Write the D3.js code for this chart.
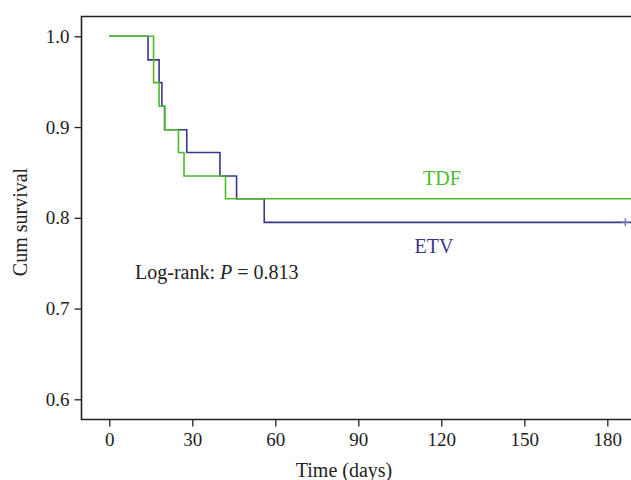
<!DOCTYPE html>
<html>
<head>
<meta charset="utf-8">
<script src="https://cdn.jsdelivr.net/npm/d3@7"></script>
<style>
  body { margin: 0; background: #fff; }
  text { font-family: "Liberation Serif", "DejaVu Serif", serif; }
</style>
</head>
<body>
<svg width="631" height="480"></svg>
<script>
// Kaplan-Meier steps
var tdfTimes = [0, 16, 18, 20, 25, 27, 42, 190];
var tdfSurv = [1.0, 0.949, 0.923, 0.897, 0.872, 0.846, 0.821, 0.821];
var etvTimes = [0, 14, 18, 19, 20, 28, 40, 46, 56, 190];
var etvSurv = [1.0, 0.974, 0.949, 0.923, 0.897, 0.872, 0.846, 0.821, 0.795, 0.795];
var etvCensor = [186.5];
var xTicks = [0, 30, 60, 90, 120, 150, 180];
var yTicks = [0.6, 0.7, 0.8, 0.9, 1.0];

var colors = { tdf: '#4cbb2a', etv: '#38388a' };

var svg = d3.select("svg");

var x = d3.scaleLinear().domain([0, 180]).range([109.3, 607.3]);
var y = d3.scaleLinear().domain([0.6, 1.0]).range([399.3, 36.3]);

var frameLeft = 81.5, frameTop = 16.5, frameBottom = 419.5;

// frame (open on the right, runs off the page)
svg.append('path')
    .attr('d', 'M640,' + frameTop + 'H' + frameLeft + 'V' + frameBottom + 'H640')
    .attr('fill', 'none')
    .attr('stroke', '#222')
    .attr('stroke-width', 1.6);

// y axis
var yAxis = d3.axisLeft(y).tickValues(yTicks).tickFormat(d3.format('.1f')).tickSize(7).tickPadding(5);
var gy = svg.append('g').attr('transform', 'translate(' + frameLeft + ',0)').call(yAxis);
gy.select('.domain').remove();
gy.selectAll('line').attr('stroke', '#222').attr('stroke-width', 1.3);
gy.selectAll('text').attr('font-size', 19).attr('fill', '#222')
    .style('font-family', '"Liberation Serif", serif');

// x axis
var xAxis = d3.axisBottom(x).tickValues(xTicks).tickSize(7).tickPadding(6);
var gx = svg.append('g').attr('transform', 'translate(0,' + frameBottom + ')').call(xAxis);
gx.select('.domain').remove();
gx.selectAll('line').attr('stroke', '#222').attr('stroke-width', 1.3);
gx.selectAll('text').attr('font-size', 19).attr('fill', '#222')
    .style('font-family', '"Liberation Serif", serif');

var line = d3.line()
    .x(d => x(d[0]))
    .y(d => y(d[1]))
    .curve(d3.curveStepAfter);

function zip(a, b) {
    return a.map((t, i) => [t, b[i]]);
}

svg.append('path')
    .datum(zip(etvTimes, etvSurv))
    .attr('d', line)
    .attr('fill', 'none')
    .attr('stroke', colors.etv)
    .attr('stroke-width', 1.6);

svg.append('path')
    .datum(zip(tdfTimes, tdfSurv))
    .attr('d', line)
    .attr('fill', 'none')
    .attr('stroke', colors.tdf)
    .attr('stroke-width', 1.6);

// censor mark on ETV
svg.selectAll('.censor')
    .data(etvCensor)
    .enter()
    .append('path')
    .attr('class', 'censor')
    .attr('d', d => 'M' + (x(d) - 4) + ',' + y(0.795) + 'h8M' + x(d) + ',' + (y(0.795) - 4) + 'v8')
    .attr('stroke', '#6670b8')
    .attr('stroke-width', 1.3);

// labels
svg.append('text').attr('x', 442).attr('y', 185).attr('text-anchor', 'middle')
    .attr('font-size', 20).attr('fill', colors.tdf).text('TDF');
svg.append('text').attr('x', 434).attr('y', 253).attr('text-anchor', 'middle')
    .attr('font-size', 20).attr('fill', colors.etv).text('ETV');

var lr = svg.append('text').attr('x', 135).attr('y', 279)
    .attr('font-size', 20).attr('fill', '#222');
lr.append('tspan').text('Log-rank: ');
lr.append('tspan').attr('font-style', 'italic').text('P');
lr.append('tspan').text(' = 0.813');

svg.append('text')
    .attr('transform', 'translate(27,222) rotate(-90)')
    .attr('text-anchor', 'middle')
    .attr('font-size', 20).attr('fill', '#222')
    .text('Cum survival');

svg.append('text')
    .attr('x', 344).attr('y', 477)
    .attr('text-anchor', 'middle')
    .attr('font-size', 20).attr('fill', '#222')
    .text('Time (days)');
</script>
</body>
</html>
